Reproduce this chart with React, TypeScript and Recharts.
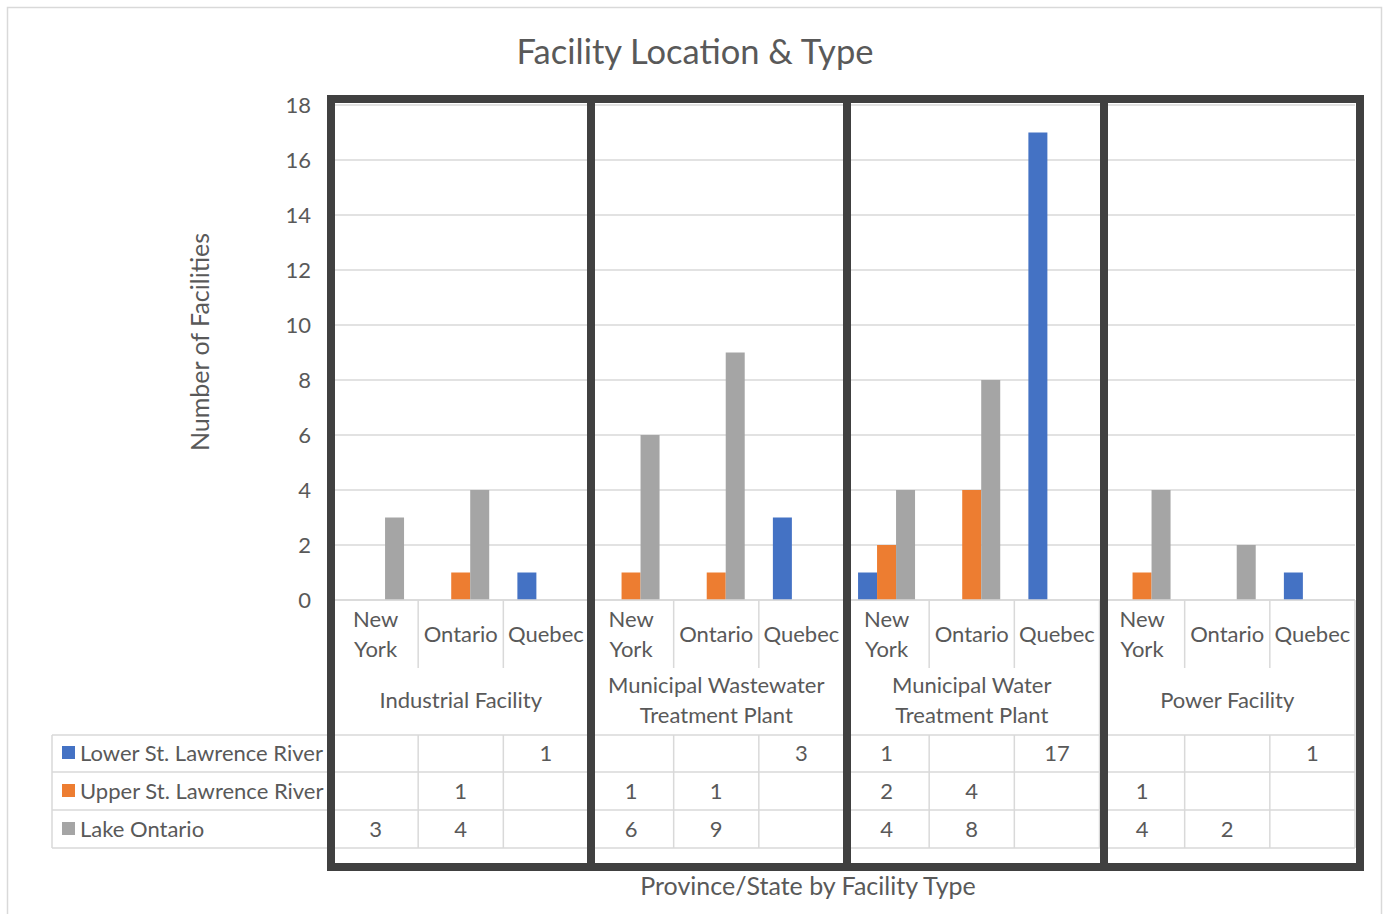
import { Bar, BarChart, CartesianGrid, XAxis, YAxis } from "recharts";

// Excel-style clustered column chart with a two-level category axis and a
// data table underneath. Black boxes are hand-drawn frames around each facility type.

const states = ["New York", "Ontario", "Quebec"];
const facilityTypes = [
  "Industrial Facility",
  "Municipal Wastewater Treatment Plant",
  "Municipal Water Treatment Plant",
  "Power Facility",
];
const seriesNames = ["Lower St. Lawrence River", "Upper St. Lawrence River", "Lake Ontario"];
const lowerStLawrence = [null, null, 1, null, null, 3, 1, null, 17, null, null, 1];
const upperStLawrence = [null, 1, null, 1, 1, null, 2, 4, null, 1, null, null];
const lakeOntario = [3, 4, null, 6, 9, null, 4, 8, null, 4, 2, null];
const yTicks = [0, 2, 4, 6, 8, 10, 12, 14, 16, 18];

const COLORS = ["#4472C4", "#ED7D31", "#A5A5A5"];
const TEXT = "#595959";
const GRID = "#D9D9D9";
const FONT = "Lato, 'Open Sans', sans-serif";
const TICK_SIZE = 22;

const W = 1390;
const H = 914;
const PLOT_LEFT = 333;
const PLOT_RIGHT = 1355;
const PLOT_TOP = 105;
const PLOT_BOTTOM = 600;
const TABLE_TOP = 735;
const ROW_LINES = [735, 772, 810, 848];
const ROW_MID = [752, 790, 828];
const LEGEND_LEFT = 52;

const seriesValues = [lowerStLawrence, upperStLawrence, lakeOntario];
const data = facilityTypes.flatMap((type, g) =>
  states.map((state, s) => {
    const i = g * 3 + s;
    return {
      key: `${type}|${state}`,
      lower: lowerStLawrence[i],
      upper: upperStLawrence[i],
      lake: lakeOntario[i],
    };
  })
);

const BAND = (PLOT_RIGHT - PLOT_LEFT) / data.length;

function wrapType(s: string) {
  const k = s.indexOf(" Treatment");
  return k > 0 ? [s.slice(0, k), s.slice(k + 1)] : [s];
}

function CategoryTick(props: any) {
  const { x, index } = props;
  const left = x - BAND / 2;
  const right = x + BAND / 2;
  const pos = index % 3;
  const state = states[pos];
  const stateLines = state === "New York" ? ["New", "York"] : [state];
  const typeLines = wrapType(facilityTypes[Math.floor(index / 3)]);
  const line = { stroke: GRID, strokeWidth: 1.5 };
  return (
    <g fontFamily={FONT} fontSize={TICK_SIZE} fill={TEXT}>
      <line x1={left} x2={left} y1={PLOT_BOTTOM} y2={pos === 0 ? TABLE_TOP : 668} {...line} />
      <line x1={left} x2={left} y1={TABLE_TOP} y2={848} {...line} />
      {index === data.length - 1 && (
        <line x1={right} x2={right} y1={PLOT_BOTTOM} y2={848} {...line} />
      )}
      {stateLines.map((t, k) => (
        <text
          key={t}
          x={x}
          y={stateLines.length === 1 ? 633 : 618 + k * 30}
          textAnchor="middle"
          dominantBaseline="central"
        >
          {t}
        </text>
      ))}
      {pos === 1 &&
        typeLines.map((t, k) => (
          <text
            key={t}
            x={x}
            y={typeLines.length === 1 ? 699 : 684 + k * 30}
            textAnchor="middle"
            dominantBaseline="central"
          >
            {t}
          </text>
        ))}
      {seriesValues.map((vals, r) =>
        vals[index] == null ? null : (
          <text key={r} x={x} y={ROW_MID[r]} textAnchor="middle" dominantBaseline="central">
            {vals[index]}
          </text>
        )
      )}
    </g>
  );
}

const BOX_X = [331, 591, 847, 1104, 1360];

export default function App() {
  return (
    <div style={{ position: "absolute", left: 0, top: 0, width: W, height: H, background: "#fff" }}>
      <BarChart
        width={W}
        height={H}
        data={data}
        margin={{ top: PLOT_TOP, right: W - PLOT_RIGHT, left: PLOT_LEFT - 60, bottom: 64 }}
        barCategoryGap="16.5%"
        barGap={0}
      >
        <CartesianGrid horizontal vertical={false} stroke={GRID} strokeWidth={1.5} />
        <XAxis
          dataKey="key"
          height={H - PLOT_BOTTOM - 64}
          interval={0}
          tickLine={false}
          axisLine={{ stroke: GRID, strokeWidth: 1.5 }}
          tick={<CategoryTick />}
        />
        <YAxis
          width={60}
          domain={[0, 18]}
          ticks={yTicks}
          interval={0}
          axisLine={false}
          tickLine={false}
          tickMargin={16}
          tick={{ fontSize: TICK_SIZE, fill: TEXT, fontFamily: FONT }}
        />
        <Bar dataKey="lower" fill={COLORS[0]} isAnimationActive={false} />
        <Bar dataKey="upper" fill={COLORS[1]} isAnimationActive={false} />
        <Bar dataKey="lake" fill={COLORS[2]} isAnimationActive={false} />
      </BarChart>
      <svg
        width={W}
        height={H}
        style={{ position: "absolute", left: 0, top: 0, pointerEvents: "none" }}
        fontFamily={FONT}
      >
        <rect x={7.5} y={7.5} width={1374} height={920} fill="none" stroke={GRID} strokeWidth={1.5} />
        <text x={695} y={50} textAnchor="middle" dominantBaseline="central" fontSize={34.5} fill={TEXT}>
          Facility Location &amp; Type
        </text>
        <text
          transform="translate(199 342) rotate(-90)"
          textAnchor="middle"
          dominantBaseline="central"
          fontSize={25}
          fill={TEXT}
        >
          Number of Facilities
        </text>
        <text x={808} y={885} textAnchor="middle" dominantBaseline="central" fontSize={25} fill={TEXT}>
          Province/State by Facility Type
        </text>
        {ROW_LINES.map((y) => (
          <line key={y} x1={LEGEND_LEFT} x2={PLOT_RIGHT} y1={y} y2={y} stroke={GRID} strokeWidth={1.5} />
        ))}
        <line x1={LEGEND_LEFT} x2={LEGEND_LEFT} y1={735} y2={848} stroke={GRID} strokeWidth={1.5} />
        {seriesNames.map((name, r) => (
          <g key={name}>
            <rect x={62} y={ROW_MID[r] - 6} width={13} height={13} fill={COLORS[r]} />
            <text x={80} y={ROW_MID[r]} dominantBaseline="central" fontSize={TICK_SIZE} fill={TEXT}>
              {name}
            </text>
          </g>
        ))}
        {BOX_X.slice(0, -1).map((x, i) => (
          <rect
            key={x}
            x={x}
            y={99}
            width={BOX_X[i + 1] - x}
            height={768}
            fill="none"
            stroke="#404040"
            strokeWidth={8}
          />
        ))}
      </svg>
    </div>
  );
}
